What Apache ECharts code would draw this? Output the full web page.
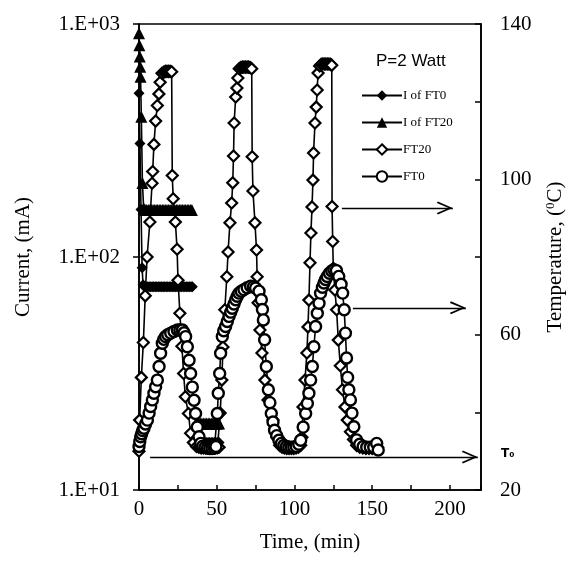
<!DOCTYPE html>
<html>
<head>
<meta charset="utf-8">
<script src="https://cdn.jsdelivr.net/npm/echarts@6/dist/echarts.min.js"></script>
<style>
html,body{margin:0;padding:0;background:#fff;}
#chart{width:577px;height:561px;}
</style>
</head>
<body>
<div id="chart"></div>
<script>
// ---- data ----
const iFt20Time = [0, 0.25, 0.5, 0.75, 1.0, 1.5, 2.2, 3, 4, 5, 6, 7, 8, 9, 10, 11, 12, 13, 14, 15, 16, 17, 18, 19, 20, 21, 22, 23, 24, 25, 26, 27, 28, 29, 30, 31, 32, 33, 34,
  35, 36.5, 37.5, 38.5, 39.5, 40.5, 41.5, 42.5, 43.5, 44.5, 45.5, 46.5, 47.5, 48.5, 49.5, 50.5, 51.5];
const iFt20Val = [912, 811, 726, 656, 594, 400, 208, 162, 159, 159, 159, 159, 159, 159, 159, 159, 159, 159, 159, 159, 159, 159, 159, 159, 159, 159, 159, 159, 159, 159, 159, 159, 159, 159, 159, 159, 159, 159, 159,
  null, 19.3, 19.3, 19.3, 19.3, 19.3, 19.3, 19.3, 19.3, 19.3, 19.3, 19.3, 19.3, 19.3, 19.3, 19.3, 19.3];

const iFt0Time = [0, 0.6, 1.3, 2.0, 2.6, 3.5, 4.5, 5.5, 6.5, 7.5, 8.5, 9.5, 10.5, 11.5, 12.5, 13.5, 14.5, 15.5, 16.5, 17.5, 18.5, 19.5, 20.5, 21.5, 22.5, 23.5, 24.5, 25.5, 26.5, 27.5, 28.5, 29.5, 30.5, 31.5, 32.5, 33.5, 34.3,
  35, 36.5, 37.5, 38.5, 39.5, 40.5, 41.5, 42.5, 43.5, 44.5, 45.5, 46.5, 47.5, 48.5, 49.5, 50.5, 51.5];
const iFt0Val = [505, 307, 160, 90, 76, 74.6, 74.6, 74.6, 74.6, 74.6, 74.6, 74.6, 74.6, 74.6, 74.6, 74.6, 74.6, 74.6, 74.6, 74.6, 74.6, 74.6, 74.6, 74.6, 74.6, 74.6, 74.6, 74.6, 74.6, 74.6, 74.6, 74.6, 74.6, 74.6, 74.6, 74.6, 74.6,
  null, 16, 16, 16, 16, 16, 16, 16, 16, 16, 16, 16, 16, 16, 16, 16, 16];

const ft20Time = [0, 0.4, 1.5, 2.8, 4.0, 5.2, 7.0, 8.4, 8.8, 9.6, 10.7, 11.8, 12.8, 13.6, 14.8, 16.0, 17.0, 18.0, 19.0, 20.0, 21.0,
  21.4, 22.0, 23.4, 24.5, 25.1, 26.3, 27.6, 28.7, 29.8, 31.8, 33.2, 35.0, 37.0, 38.5, 40, 41.5, 43, 44.5, 46, 47.5, 49, 50.5, 51.5,
  52.2, 53.3, 54.0, 55.2, 56.5, 57.3, 58.5, 59.6, 60.3, 60.8, 61.2, 62.2, 63.0, 63.6, 64.5, 65.5, 66.5, 67.5, 68.5, 69.5, 70.5, 71.5, 72.5,
  72.8, 73.3, 74.6, 75.6, 76.0, 76.6, 77.8, 79.1, 81.0, 83.0, 86.2, 88.7, 90.5, 92, 93.5, 95, 96.5, 98, 99.5, 101, 102.5, 104,
  104.8, 105.5, 106.8, 108.0, 108.7, 109.3, 110.0, 110.6, 111.3, 111.9, 112.3, 113.2, 114.0, 114.6, 115.2, 116.2, 117.2, 118.2, 119.2, 120.2, 121.2, 122.2, 123.2, 124.0,
  124.2, 124.6, 125.0, 126.0, 127.1, 128.2, 129.5, 130.9, 132.5, 134.0, 136.0, 138.0, 140.0, 142, 144, 146, 148, 150, 152, 153.5];
const ft20Temp = [30, 38, 49, 58, 70, 80, 89, 99, 102, 109, 115, 119, 122, 125, 127.3, 127.6, 127.8, 127.8, 127.8, 127.8, 127.7,
  101, 95, 89, 82, 74, 65.5, 57, 50, 44, 39.7, 34.6, 32.2, 31.2, 31, 30.8, 30.8, 30.8, 30.8, 30.8, 30.8, 30.8, 30.9, 31,
  39.8, 48.3, 56.8, 66.4, 74.9, 81.3, 88.8, 93.9, 99.1, 106, 114.5, 121.2, 123.5, 126.1, 128.5, 128.8, 128.9, 128.9, 128.9, 128.9, 128.9, 128.8, 128.5,
  105.8, 97, 88.8, 81.8, 74.9, 68.2, 61.2, 55.3, 48.3, 43.2, 38, 33.6, 31.5, 31, 30.8, 30.7, 30.7, 30.7, 30.7, 30.8, 31, 31.5,
  33.6, 41.4, 48.3, 55.3, 62, 68.9, 78.5, 86.2, 92.9, 99.8, 106.8, 114.5, 118.6, 123, 127.4, 129.2, 129.6, 129.7, 129.7, 129.7, 129.7, 129.7, 129.6, 129.4,
  93, 84, 77.1, 71.5, 66.4, 58.6, 52, 45.8, 41.4, 38, 35, 33, 31.5, 31, 30.8, 30.7, 30.7, 30.7, 30.8, 31];

const ft0Time = [0, 0.5, 1.1, 1.7, 2.4, 3.2, 4.2, 5.4, 6.5, 7.5, 8.6, 9.6, 10.7, 11.8, 12.9, 13.9, 15.0, 16.0, 17.1, 18.5, 20.4, 22.5, 24.7, 26.3, 27.9, 29.0, 30.0,
  31.1, 32.2, 33.2, 34.3, 35.4, 36.4, 37.5, 38.6, 39.7, 41, 42.5, 44, 45.5, 47, 48.5, 49.5,
  50.4, 51, 51.9, 52.5, 53.6, 54.5, 55.7, 56.8, 57.9, 59, 60, 61.1, 62.2, 63.2, 64.3, 65.8, 67.5, 69.6, 71.8, 73.5, 75, 77.2, 78.7, 79.4,
  80, 80.8, 81.9, 83.2, 84.2, 85.1, 86.2, 87.2, 88.6, 90, 91.6, 93.2, 94.8, 96.4, 98, 99.6, 101.2, 102.8, 104,
  105.6, 107.2, 108.3, 109.3, 110.4, 111.5, 112.5, 113.6, 114.7, 115.8, 116.8, 118, 119, 120, 121.1, 122.5, 124, 125.4, 127, 128.5,
  130, 131, 132, 132.8, 133.5, 134.2, 135, 136, 137, 138.2, 140, 142, 144.2, 146.5, 148.8, 151, 152.9, 153.9];
const ft0Temp = [31.2, 32.5, 33.7, 34.5, 35.3, 35.9, 37, 38, 39.8, 41.5, 43.2, 44.9, 46.6, 48.3, 51.8, 55.2, 57.8, 58.8, 59.5, 60.0, 60.4, 60.8, 61.2, 61.2, 61.2, 60.5, 59.5,
  56.9, 53.4, 50, 46.5, 43.1, 39.7, 36.2, 33.7, 32, 31.3, 31, 30.8, 30.7, 30.7, 30.8, 31.2,
  39.7, 44.9, 50, 55.2, 59.5, 61, 62.1, 63.4, 64.7, 65.8, 66.8, 67.9, 69, 69.9, 70.7, 71.2, 71.6, 72.1, 72.5, 72.3, 72, 71.2, 69, 66.5,
  63.8, 58.7, 51.8, 45.8, 42.5, 39.7, 37.5, 35.4, 34, 32.8, 32, 31.5, 31.2, 31, 31, 31, 31.2, 31.8, 32.8,
  36.2, 39.7, 42.3, 44.9, 48.3, 51.8, 56.9, 62.1, 65.5, 68.1, 70.7, 72.2, 73.3, 74.2, 75, 75.8, 76.4, 76.7, 76.5, 75,
  73, 70.7, 66.4, 60.4, 54, 49, 45.8, 43.2, 39.8, 36.3, 32.9, 31.8, 31.2, 31, 31, 31, 32, 30.3];

// tick labels
const xTickLabels = [0, 50, 100, 150, 200];
const leftTicks = [10, 100, 1000];
const leftTickLabels = ['1.E+01', '1.E+02', '1.E+03'];
const rightTickLabels = [20, 60, 100, 140];

// annotation arrows (temperature axis): y value, x start, x end (tip)
const arrowY = [92.6, 66.9, 28.5];
const arrowStart = [130.5, 137.6, 7.1];
const arrowEnd = [201.9, 210.3, 218];

// ---- build ----
function zip(xs, ys) { return xs.map((x, i) => [x, ys[i] === null ? '-' : ys[i]]); }

const serif = 'Liberation Serif, Times New Roman, serif';
const chevron = 'path://M6,12 L12,23 L10.6,23.7 L6,15 L1.4,23.7 L0,23 Z M6,0 L6.01,0 L6,0.01 Z';

const arrowData = arrowY.map((y, i) => [
  { coord: [arrowStart[i], y], symbol: 'none' },
  { coord: [arrowEnd[i], y], symbol: chevron, symbolSize: [13, 32] }
]);

const chart = echarts.init(document.getElementById('chart'), null, { renderer: 'canvas' });
chart.setOption({
  animation: false,
  backgroundColor: '#fff',
  title: {
    text: 'P=2 Watt', left: 371, top: 48,
    textStyle: { fontFamily: 'Liberation Sans, Arial, sans-serif', fontSize: 17, fontWeight: 'normal', color: '#000' }
  },
  legend: {
    orient: 'vertical', left: 356, top: 84, itemGap: 14, itemWidth: 40, itemHeight: 13,
    textStyle: { fontFamily: serif, fontSize: 13, color: '#000', padding: [0, 0, 0, -4] },
    data: ['I of FT0', 'I of FT20', 'FT20', 'FT0']
  },
  grid: { left: 139, top: 24, width: 342, height: 466, show: true, borderColor: '#000', borderWidth: 1.6, backgroundColor: 'transparent' },
  xAxis: {
    type: 'value', min: 0, max: 220, interval: 25,
    name: 'Time, (min)', nameLocation: 'middle', nameGap: 42,
    nameTextStyle: { fontFamily: serif, fontSize: 21, color: '#000' },
    axisLine: { lineStyle: { color: '#000', width: 1.6 } },
    axisTick: { inside: true, length: 5, lineStyle: { color: '#000', width: 1.5 } },
    axisLabel: {
      margin: 9, fontFamily: serif, fontSize: 21, color: '#000',
      formatter: v => xTickLabels.indexOf(v) >= 0 ? String(v) : ''
    },
    splitLine: { show: false }
  },
  yAxis: [
    {
      type: 'log', logBase: 10, min: 10, max: 1000, position: 'left',
      name: 'Current, (mA)', nameLocation: 'middle', nameGap: 105, nameRotate: 90,
      nameTextStyle: { fontFamily: serif, fontSize: 21, color: '#000' },
      axisLine: { show: true, lineStyle: { color: '#000', width: 1.6 } },
      axisTick: { show: true, inside: false, length: 6, lineStyle: { color: '#000', width: 1.5 } },
      minorTick: { show: false },
      axisLabel: {
        margin: 19, fontFamily: serif, fontSize: 21, color: '#000',
        formatter: v => { const i = leftTicks.indexOf(Math.round(v)); return i >= 0 ? leftTickLabels[i] : ''; }
      },
      splitLine: { show: false }
    },
    {
      type: 'value', min: 20, max: 140, interval: 20, position: 'right',
      name: 'Temperature, ({s|0}C)', nameLocation: 'middle', nameGap: 63, nameRotate: 90,
      nameTextStyle: {
        fontFamily: serif, fontSize: 21, color: '#000',
        rich: { s: { fontFamily: serif, fontSize: 13, color: '#000', verticalAlign: 'top', padding: [0, 0, 10, 0] } }
      },
      axisLine: { show: true, lineStyle: { color: '#000', width: 1.6 } },
      axisTick: { show: true, inside: true, length: 6, lineStyle: { color: '#000', width: 1.5 } },
      axisLabel: {
        margin: 19, fontFamily: serif, fontSize: 21, color: '#000',
        formatter: v => rightTickLabels.indexOf(v) >= 0 ? String(v) : ''
      },
      splitLine: { show: false }
    }
  ],
  graphic: [
    { type: 'text', left: 501, top: 448, style: { text: 'T\u2080', fontFamily: 'DejaVu Sans, sans-serif', fontSize: 12, fontWeight: 'bold', fill: '#000' } }
  ],
  series: [
    {
      name: 'I of FT0', type: 'line', yAxisIndex: 0, data: zip(iFt0Time, iFt0Val), connectNulls: false,
      symbol: 'diamond', symbolSize: 11,
      itemStyle: { color: '#000' }, lineStyle: { color: '#000', width: 1.6 }
    },
    {
      name: 'I of FT20', type: 'line', yAxisIndex: 0, data: zip(iFt20Time, iFt20Val), connectNulls: false,
      symbol: 'triangle', symbolSize: 12,
      itemStyle: { color: '#000' }, lineStyle: { color: '#000', width: 1.6 }
    },
    {
      name: 'FT20', type: 'line', yAxisIndex: 1, data: zip(ft20Time, ft20Temp),
      symbol: 'diamond', symbolSize: 11,
      itemStyle: { color: '#fff', borderColor: '#000', borderWidth: 2.2 },
      lineStyle: { color: '#000', width: 1.6 },
      markLine: {
        silent: true, animation: false,
        lineStyle: { color: '#000', width: 1.3, type: 'solid' },
        label: { show: false },
        data: arrowData
      }
    },
    {
      name: 'FT0', type: 'line', yAxisIndex: 1, data: zip(ft0Time, ft0Temp),
      symbol: 'circle', symbolSize: 11,
      itemStyle: { color: '#fff', borderColor: '#000', borderWidth: 2.4 },
      lineStyle: { color: '#000', width: 1.6 }
    }
  ]
});
</script>
</body>
</html>
